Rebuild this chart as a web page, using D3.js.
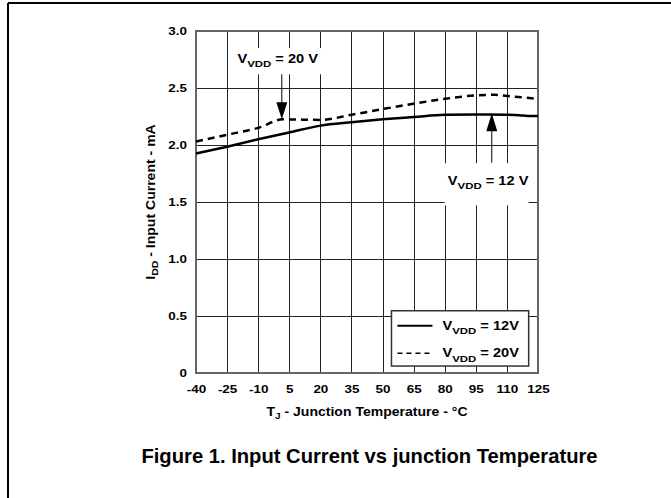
<!DOCTYPE html>
<html><head><meta charset="utf-8">
<script src="https://cdn.jsdelivr.net/npm/d3@7"></script>
<style>
html,body{margin:0;padding:0;background:#fff;}
text{font-family:"Liberation Sans",Arial,Helvetica,sans-serif;font-weight:bold;fill:#000;}
</style></head>
<body><svg id="c" width="671" height="498"></svg>
<script>
const xTicks = [-40,-25,-10,5,20,35,50,65,80,95,110,125];
const yTicks = [0,0.5,1.0,1.5,2.0,2.5,3.0];
const yTickLabels = ["0","0.5","1.0","1.5","2.0","2.5","3.0"];

const temp12 = [-40,-25,-10,5,20,35,50,65,80,95,110,116,120,125];
const iddd12 = [1.925,1.985,2.05,2.11,2.17,2.2,2.225,2.245,2.265,2.268,2.266,2.262,2.255,2.255];

const temp20 = [-40,-25,-10,2,20,35,50,65,80,95,104,110,125];
const iddd20 = [2.03,2.09,2.15,2.225,2.22,2.265,2.315,2.362,2.405,2.435,2.44,2.43,2.405];

const seriesNames = ["12V","20V"];

const svg = d3.select("#c");
const L=196, R=538, T=31, B=373;
const x = d3.scaleLinear().domain([-40,125]).range([L,R]);
const y = d3.scaleLinear().domain([0,3]).range([B,T]);
const SX = 1.17;

function stretch(sel, sx){
  sel.each(function(){
    const t=d3.select(this);
    const ax=+t.attr("x")||0, ay=+t.attr("y")||0;
    t.attr("transform",`translate(${ax},${ay}) scale(${sx},1) translate(${-ax},${-ay})`);
  });
}

// outer figure frame (top & left edges visible)
svg.append("line").attr("x1",8).attr("x2",671).attr("y1",3).attr("y2",3).attr("stroke","#000").attr("stroke-width",2);
svg.append("line").attr("x1",8).attr("x2",8).attr("y1",3).attr("y2",498).attr("stroke","#000").attr("stroke-width",2);

// grid
const g = svg.append("g");
g.selectAll("line.v").data(xTicks.slice(1,-1)).join("line")
  .attr("x1",d=>Math.round(x(d))+0.5).attr("x2",d=>Math.round(x(d))+0.5).attr("y1",T).attr("y2",B)
  .attr("stroke","#222").attr("stroke-width",1);
g.selectAll("line.h").data(yTicks.slice(1,-1)).join("line")
  .attr("y1",d=>Math.round(y(d))+0.5).attr("y2",d=>Math.round(y(d))+0.5).attr("x1",L).attr("x2",R)
  .attr("stroke","#222").attr("stroke-width",1);

// axes via d3
const xAxis = d3.axisBottom(x).tickValues(xTicks).tickSize(0).tickPadding(12).tickFormat(d=>String(d));
const xa = svg.append("g").attr("transform",`translate(0,${B})`).call(xAxis);
xa.select(".domain").remove();
xa.selectAll("text").attr("font-size",11.5).attr("font-family","Liberation Sans, Arial").attr("font-weight","bold");
stretch(xa.selectAll("text"), SX);

const yAxis = d3.axisLeft(y).tickValues(yTicks).tickSize(0).tickPadding(9).tickFormat((d,i)=>yTickLabels[i]);
const ya = svg.append("g").attr("transform",`translate(${L},0)`).call(yAxis);
ya.select(".domain").remove();
ya.selectAll("text").attr("font-size",11.5).attr("font-family","Liberation Sans, Arial").attr("font-weight","bold");
stretch(ya.selectAll("text"), SX);

// plot frame
svg.append("rect").attr("x",L).attr("y",T).attr("width",R-L).attr("height",B-T)
  .attr("fill","none").attr("stroke","#666").attr("stroke-width",2);

function subLabel(parent, xx, yy, main, sub, rest, fs){
  const t = parent.append("text").attr("x",xx).attr("y",yy).attr("font-size",fs);
  t.append("tspan").text(main);
  t.append("tspan").attr("font-size",fs*0.78).attr("dy",fs*0.35).text(sub);
  t.append("tspan").attr("dy",-fs*0.35).text(rest);
  stretch(t, SX);
  return t;
}
const ann = svg.append("g");
ann.append("rect").attr("x",x(-21)).attr("y",y(2.85)).attr("width",x(22)-x(-21)).attr("height",y(2.62)-y(2.85)).attr("fill","#fff");
subLabel(ann, x(-20), y(2.72), "V","VDD"," = 20 V",12.5);
ann.append("line").attr("x1",x(1.4)).attr("x2",x(1.4)).attr("y1",y(2.62)).attr("y2",y(2.3)).attr("stroke","#000").attr("stroke-width",1);
ann.append("path").attr("d",`M${x(1.4)-5.5},${y(2.225)-17} L${x(1.4)+5.5},${y(2.225)-17} L${x(1.4)},${y(2.225)} Z`).attr("fill","#000");

ann.append("rect").attr("x",x(80)).attr("y",y(1.84)).attr("width",x(120.5)-x(80)).attr("height",y(1.47)-y(1.84)).attr("fill","#fff");
subLabel(ann, x(81.5), y(1.65), "V","VDD"," = 12 V",12.5);
ann.append("line").attr("x1",x(102.7)).attr("x2",x(102.7)).attr("y1",y(1.845)).attr("y2",y(2.2)).attr("stroke","#000").attr("stroke-width",1);
ann.append("path").attr("d",`M${x(102.7)-5.5},${y(2.278)+18} L${x(102.7)+5.5},${y(2.278)+18} L${x(102.7)},${y(2.278)} Z`).attr("fill","#000");

// series lines
const line = d3.line().x(d=>x(d[0])).y(d=>y(d[1])).curve(d3.curveMonotoneX);
svg.append("path").datum(temp12.map((t,i)=>[t,iddd12[i]])).attr("d",line)
  .attr("fill","none").attr("stroke","#000").attr("stroke-width",2.5);
svg.append("path").datum(temp20.map((t,i)=>[t,iddd20[i]])).attr("d",line)
  .attr("fill","none").attr("stroke","#000").attr("stroke-width",2.5).attr("stroke-dasharray","7,5");

// legend
const lg = svg.append("g");
const lx0 = x(54.3), lx1 = x(120.5), ly0 = y(0.546), ly1 = y(0.061);
lg.append("rect").attr("x",lx0).attr("y",ly0).attr("width",lx1-lx0).attr("height",ly1-ly0)
  .attr("fill","#fff").attr("stroke","#333").attr("stroke-width",1.5);
const dashes = [null,"5,4"];
seriesNames.forEach((s,i)=>{
  const yy = ly0 + 15 + i*27.5;
  lg.append("line").attr("x1",lx0+6).attr("x2",lx0+41).attr("y1",yy).attr("y2",yy)
    .attr("stroke","#000").attr("stroke-width",i?1.5:2).attr("stroke-dasharray",dashes[i]);
  subLabel(lg, lx0+51, yy+4, "V","VDD"," = "+s,12.5);
});

// axis titles
const xt = svg.append("text").attr("x",(L+R)/2).attr("y",416).attr("text-anchor","middle").attr("font-size",12);
xt.append("tspan").text("T");
xt.append("tspan").attr("font-size",8.5).attr("dy",3).text("J");
xt.append("tspan").attr("dy",-3).text(" - Junction Temperature - °C");
stretch(xt, SX);

const yt = svg.append("text").attr("transform",`translate(155,${(T+B)/2}) rotate(-90) scale(${SX},1)`).attr("text-anchor","middle").attr("font-size",12);
yt.append("tspan").text("I");
yt.append("tspan").attr("font-size",9).attr("dy",3).text("DD");
yt.append("tspan").attr("dy",-3).text(" - Input Current -  mA");

svg.append("text").attr("x",369.5).attr("y",463).attr("text-anchor","middle").attr("font-size",20.2)
  .text("Figure 1. Input Current vs junction Temperature");
</script></body></html>
